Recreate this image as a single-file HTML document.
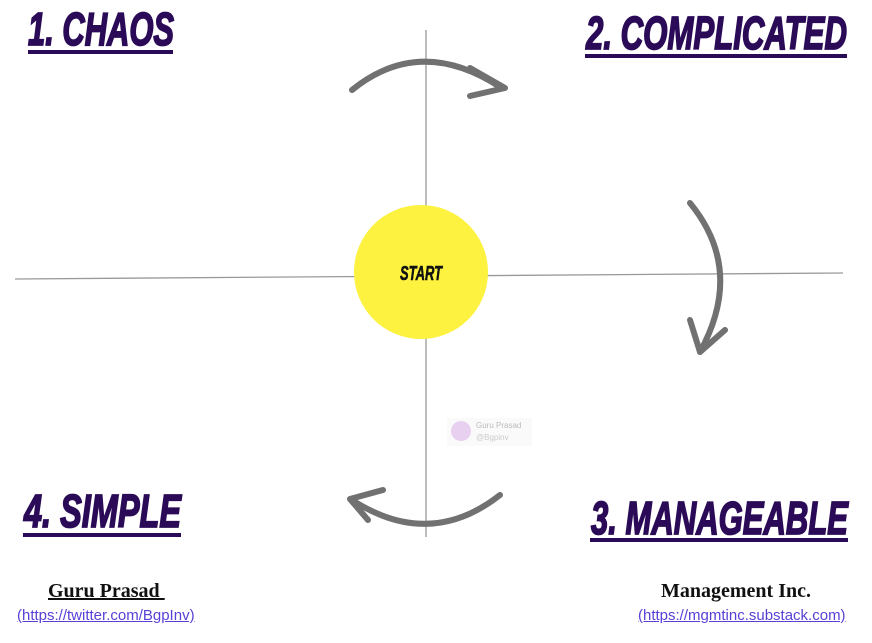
<!DOCTYPE html>
<html><head><meta charset="utf-8"><style>
body{margin:0;width:872px;height:643px;background:#fff;position:relative;overflow:hidden;font-family:"Liberation Sans",sans-serif}
.u{position:absolute;height:4px;background:#2b0b57}
.f{position:absolute;font-family:"Liberation Serif",serif;font-weight:bold;font-size:20px;color:#111}
.l{position:absolute;font-size:15px;color:#5a3fd6;text-decoration:underline}
</style></head><body>
<svg width="872" height="643" style="position:absolute;left:0;top:0">
<line x1="426" y1="30" x2="426" y2="537" stroke="#999" stroke-width="1.3"/>
<line x1="15" y1="279" x2="843" y2="273" stroke="#999" stroke-width="1.3"/>
<circle cx="421" cy="272" r="67" fill="#fcf23f"/>
<text x="421" y="280" text-anchor="middle" textLength="42" lengthAdjust="spacingAndGlyphs" font-family="Liberation Sans,sans-serif" font-weight="bold" font-style="italic" font-size="20" fill="#111" stroke="#111" stroke-width="0.6">START</text>
<g fill="none" stroke="#717171" stroke-width="6" stroke-linecap="round" stroke-linejoin="round">
<path d="M352 90 Q420 35 500 87"/>
<path d="M470 68 L505 88 L470 96"/>
<path d="M690 203 Q745 270 700 352"/>
<path d="M690 320 L700 352 L725 330"/>
<path d="M500 495 Q430 550 352 500"/>
<path d="M383 490 L350 499 L368 520"/>
</g>
<rect x="447" y="418" width="85" height="28" fill="#fafafa"/>
<circle cx="461" cy="431" r="10" fill="#e8d0f0"/>
<text x="476" y="428" font-size="8" fill="#bbb" font-family="Liberation Sans">Guru Prasad</text>
<text x="476" y="440" font-size="8" fill="#ccc" font-family="Liberation Sans">@Bgpinv</text>
<g font-family="Liberation Sans,sans-serif" font-weight="bold" font-style="italic" font-size="46" fill="#2b0b57" stroke="#2b0b57" stroke-width="1.8">
<text x="28" y="45" textLength="146" lengthAdjust="spacingAndGlyphs">1. CHAOS</text>
<text x="586" y="49" textLength="261" lengthAdjust="spacingAndGlyphs">2. COMPLICATED</text>
<text x="24" y="527" textLength="157" lengthAdjust="spacingAndGlyphs">4. SIMPLE</text>
<text x="591" y="534" textLength="257" lengthAdjust="spacingAndGlyphs">3. MANAGEABLE</text>
</g>
</svg>
<div class="u" style="left:28px;top:50px;width:145px"></div>
<div class="u" style="left:585px;top:54px;width:262px"></div>
<div class="u" style="left:23px;top:533px;width:158px"></div>
<div class="u" style="left:590px;top:538px;width:258px"></div>
<div class="f" style="left:48px;top:580px;text-decoration:underline">Guru Prasad&nbsp;</div>
<div class="l" style="left:17px;top:607px">(https://twitter.com/BgpInv)</div>
<div class="f" style="left:661px;top:580px">Management Inc.</div>
<div class="l" style="left:638px;top:607px">(https://mgmtinc.substack.com)</div>
</body></html>
